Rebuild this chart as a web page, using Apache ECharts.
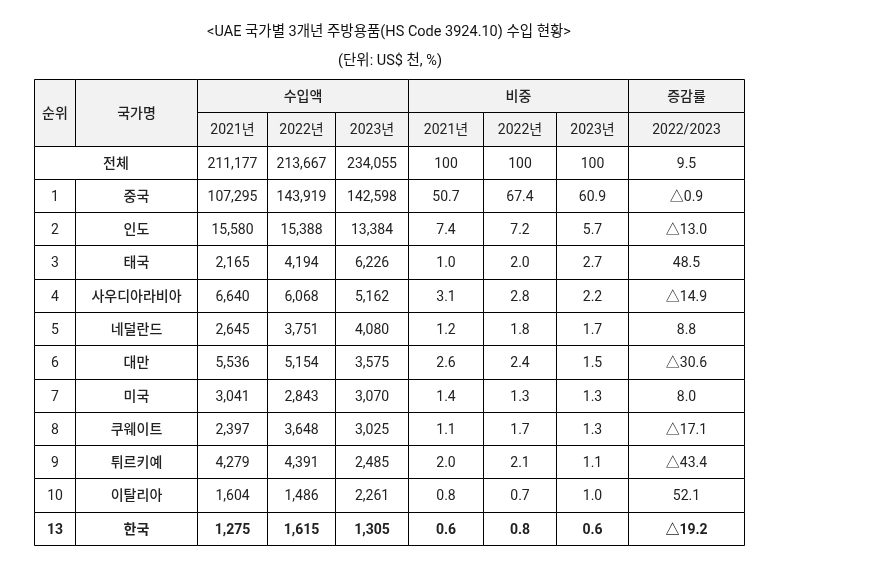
<!DOCTYPE html>
<html>
<head>
<meta charset="utf-8">
<script src="https://cdn.jsdelivr.net/npm/echarts@6/dist/echarts.min.js"></script>
<style>
  html, body { margin: 0; padding: 0; background: #fff; }
  #main { width: 895px; height: 562px; }
</style>
</head>
<body>
<div id="main"></div>
<script>
// 표 데이터
var years = ['2021년', '2022년', '2023년'];
var groupNames = ['수입액', '비중', '증감률'];
var growthPeriod = '2022/2023';
var ranks = ['1', '2', '3', '4', '5', '6', '7', '8', '9', '10', '13'];
var countries = ['중국', '인도', '태국', '사우디아라비아', '네덜란드', '대만', '미국', '쿠웨이트', '튀르키예', '이탈리아', '한국'];
var imports2021 = [107295, 15580, 2165, 6640, 2645, 5536, 3041, 2397, 4279, 1604, 1275];
var imports2022 = [143919, 15388, 4194, 6068, 3751, 5154, 2843, 3648, 4391, 1486, 1615];
var imports2023 = [142598, 13384, 6226, 5162, 4080, 3575, 3070, 3025, 2485, 2261, 1305];
var share2021 = [50.7, 7.4, 1.0, 3.1, 1.2, 2.6, 1.4, 1.1, 2.0, 0.8, 0.6];
var share2022 = [67.4, 7.2, 2.0, 2.8, 1.8, 2.4, 1.3, 1.7, 2.1, 0.7, 0.8];
var share2023 = [60.9, 5.7, 2.7, 2.2, 1.7, 1.5, 1.3, 1.3, 1.1, 1.0, 0.6];
var growth = [-0.9, -13.0, 48.5, -14.9, 8.8, -30.6, 8.0, -17.1, -43.4, 52.1, -19.2];
var totalImports = [211177, 213667, 234055];
var totalShare = [100, 100, 100];
var totalGrowth = 9.5;

// 열 너비 (레이아웃)
var colWidths = [41, 122, 71, 68, 73, 75, 73, 73, 116];
var colEdges = [0];
colWidths.forEach(function (w) { colEdges.push(colEdges[colEdges.length - 1] + w); });

function fmtInt(v) { return v.toLocaleString('en-US'); }
function fmtPct(v) { return v.toFixed(1); }
function fmtGrowth(v) { return v < 0 ? '△' + Math.abs(v).toFixed(1) : v.toFixed(1); }

var cells = [];
function addCell(c0, r0, c1, r1, text, opt) {
    opt = opt || {};
    cells.push({c0: c0, r0: r0, c1: c1, r1: r1, text: text, head: !!opt.head, bold: !!opt.bold});
}

// 헤더
addCell(0, 0, 1, 2, '순위', {head: true});
addCell(1, 0, 2, 2, '국가명', {head: true});
addCell(2, 0, 5, 1, groupNames[0], {head: true});
addCell(5, 0, 8, 1, groupNames[1], {head: true});
addCell(8, 0, 9, 1, groupNames[2], {head: true});
years.forEach(function (y, i) {
    addCell(2 + i, 1, 3 + i, 2, y, {head: true});
    addCell(5 + i, 1, 6 + i, 2, y, {head: true});
});
addCell(8, 1, 9, 2, growthPeriod, {head: true});

// 전체
addCell(0, 2, 2, 3, '전체');
totalImports.forEach(function (v, i) { addCell(2 + i, 2, 3 + i, 3, fmtInt(v)); });
totalShare.forEach(function (v, i) { addCell(5 + i, 2, 6 + i, 3, String(v)); });
addCell(8, 2, 9, 3, fmtPct(totalGrowth));

// 국가별
countries.forEach(function (name, i) {
    var r = 3 + i;
    var bold = name === '한국';
    var row = [ranks[i], name, fmtInt(imports2021[i]), fmtInt(imports2022[i]), fmtInt(imports2023[i]),
        fmtPct(share2021[i]), fmtPct(share2022[i]), fmtPct(share2023[i]), fmtGrowth(growth[i])];
    row.forEach(function (t, c) { addCell(c, r, c + 1, r + 1, t, {bold: bold}); });
});

var rowCount = 14;
var fontFamily = 'Roboto, "Noto Sans CJK KR", sans-serif';
var hangulOnly = /^[\uAC00-\uD7A3]+$/;

var chart = echarts.init(document.getElementById('main'));
chart.setOption({
    animation: false,
    title: [{
        text: '<UAE 국가별 3개년 주방용품(HS Code 3924.10) 수입 현황>',
        left: 384, top: 20, textAlign: 'center',
        textStyle: {fontSize: 14.5, fontWeight: 'normal', color: '#111', fontFamily: fontFamily}
    }, {
        text: '(단위: US$ 천, %)',
        left: 385, top: 49, textAlign: 'center',
        textStyle: {fontSize: 14.5, fontWeight: 'normal', color: '#111', fontFamily: fontFamily}
    }],
    grid: {left: 34, right: 151, top: 79, bottom: 17},
    xAxis: {type: 'value', min: 0, max: colEdges[colEdges.length - 1], show: false},
    yAxis: {type: 'value', min: 0, max: rowCount, inverse: true, show: false},
    series: [{
        type: 'custom',
        silent: true,
        encode: {x: [0, 2], y: [1, 3]},
        data: cells.map(function (c) { return [colEdges[c.c0], c.r0, colEdges[c.c1], c.r1]; }),
        renderItem: function (params, api) {
            var c = cells[params.dataIndex];
            var p0 = api.coord([api.value(0), api.value(1)]);
            var p1 = api.coord([api.value(2), api.value(3)]);
            var x0 = Math.round(p0[0]) + 0.5, y0 = Math.round(p0[1]) + 0.5;
            var x1 = Math.round(p1[0]) + 0.5, y1 = Math.round(p1[1]) + 0.5;
            var weight = c.bold ? 'bold' : (hangulOnly.test(c.text) ? 500 : 'normal');
            return {
                type: 'group',
                children: [{
                    type: 'rect',
                    shape: {x: x0, y: y0, width: x1 - x0, height: y1 - y0},
                    style: {fill: c.head ? '#f2f2f2' : '#fff', stroke: '#000', lineWidth: 1}
                }, {
                    type: 'text',
                    x: (x0 + x1) / 2, y: (y0 + y1) / 2 + 1,
                    style: {
                        text: c.text, align: 'center', verticalAlign: 'middle',
                        fontSize: 14, fontFamily: fontFamily,
                        fontWeight: weight, fill: '#222'
                    }
                }]
            };
        }
    }]
});
</script>
</body>
</html>
